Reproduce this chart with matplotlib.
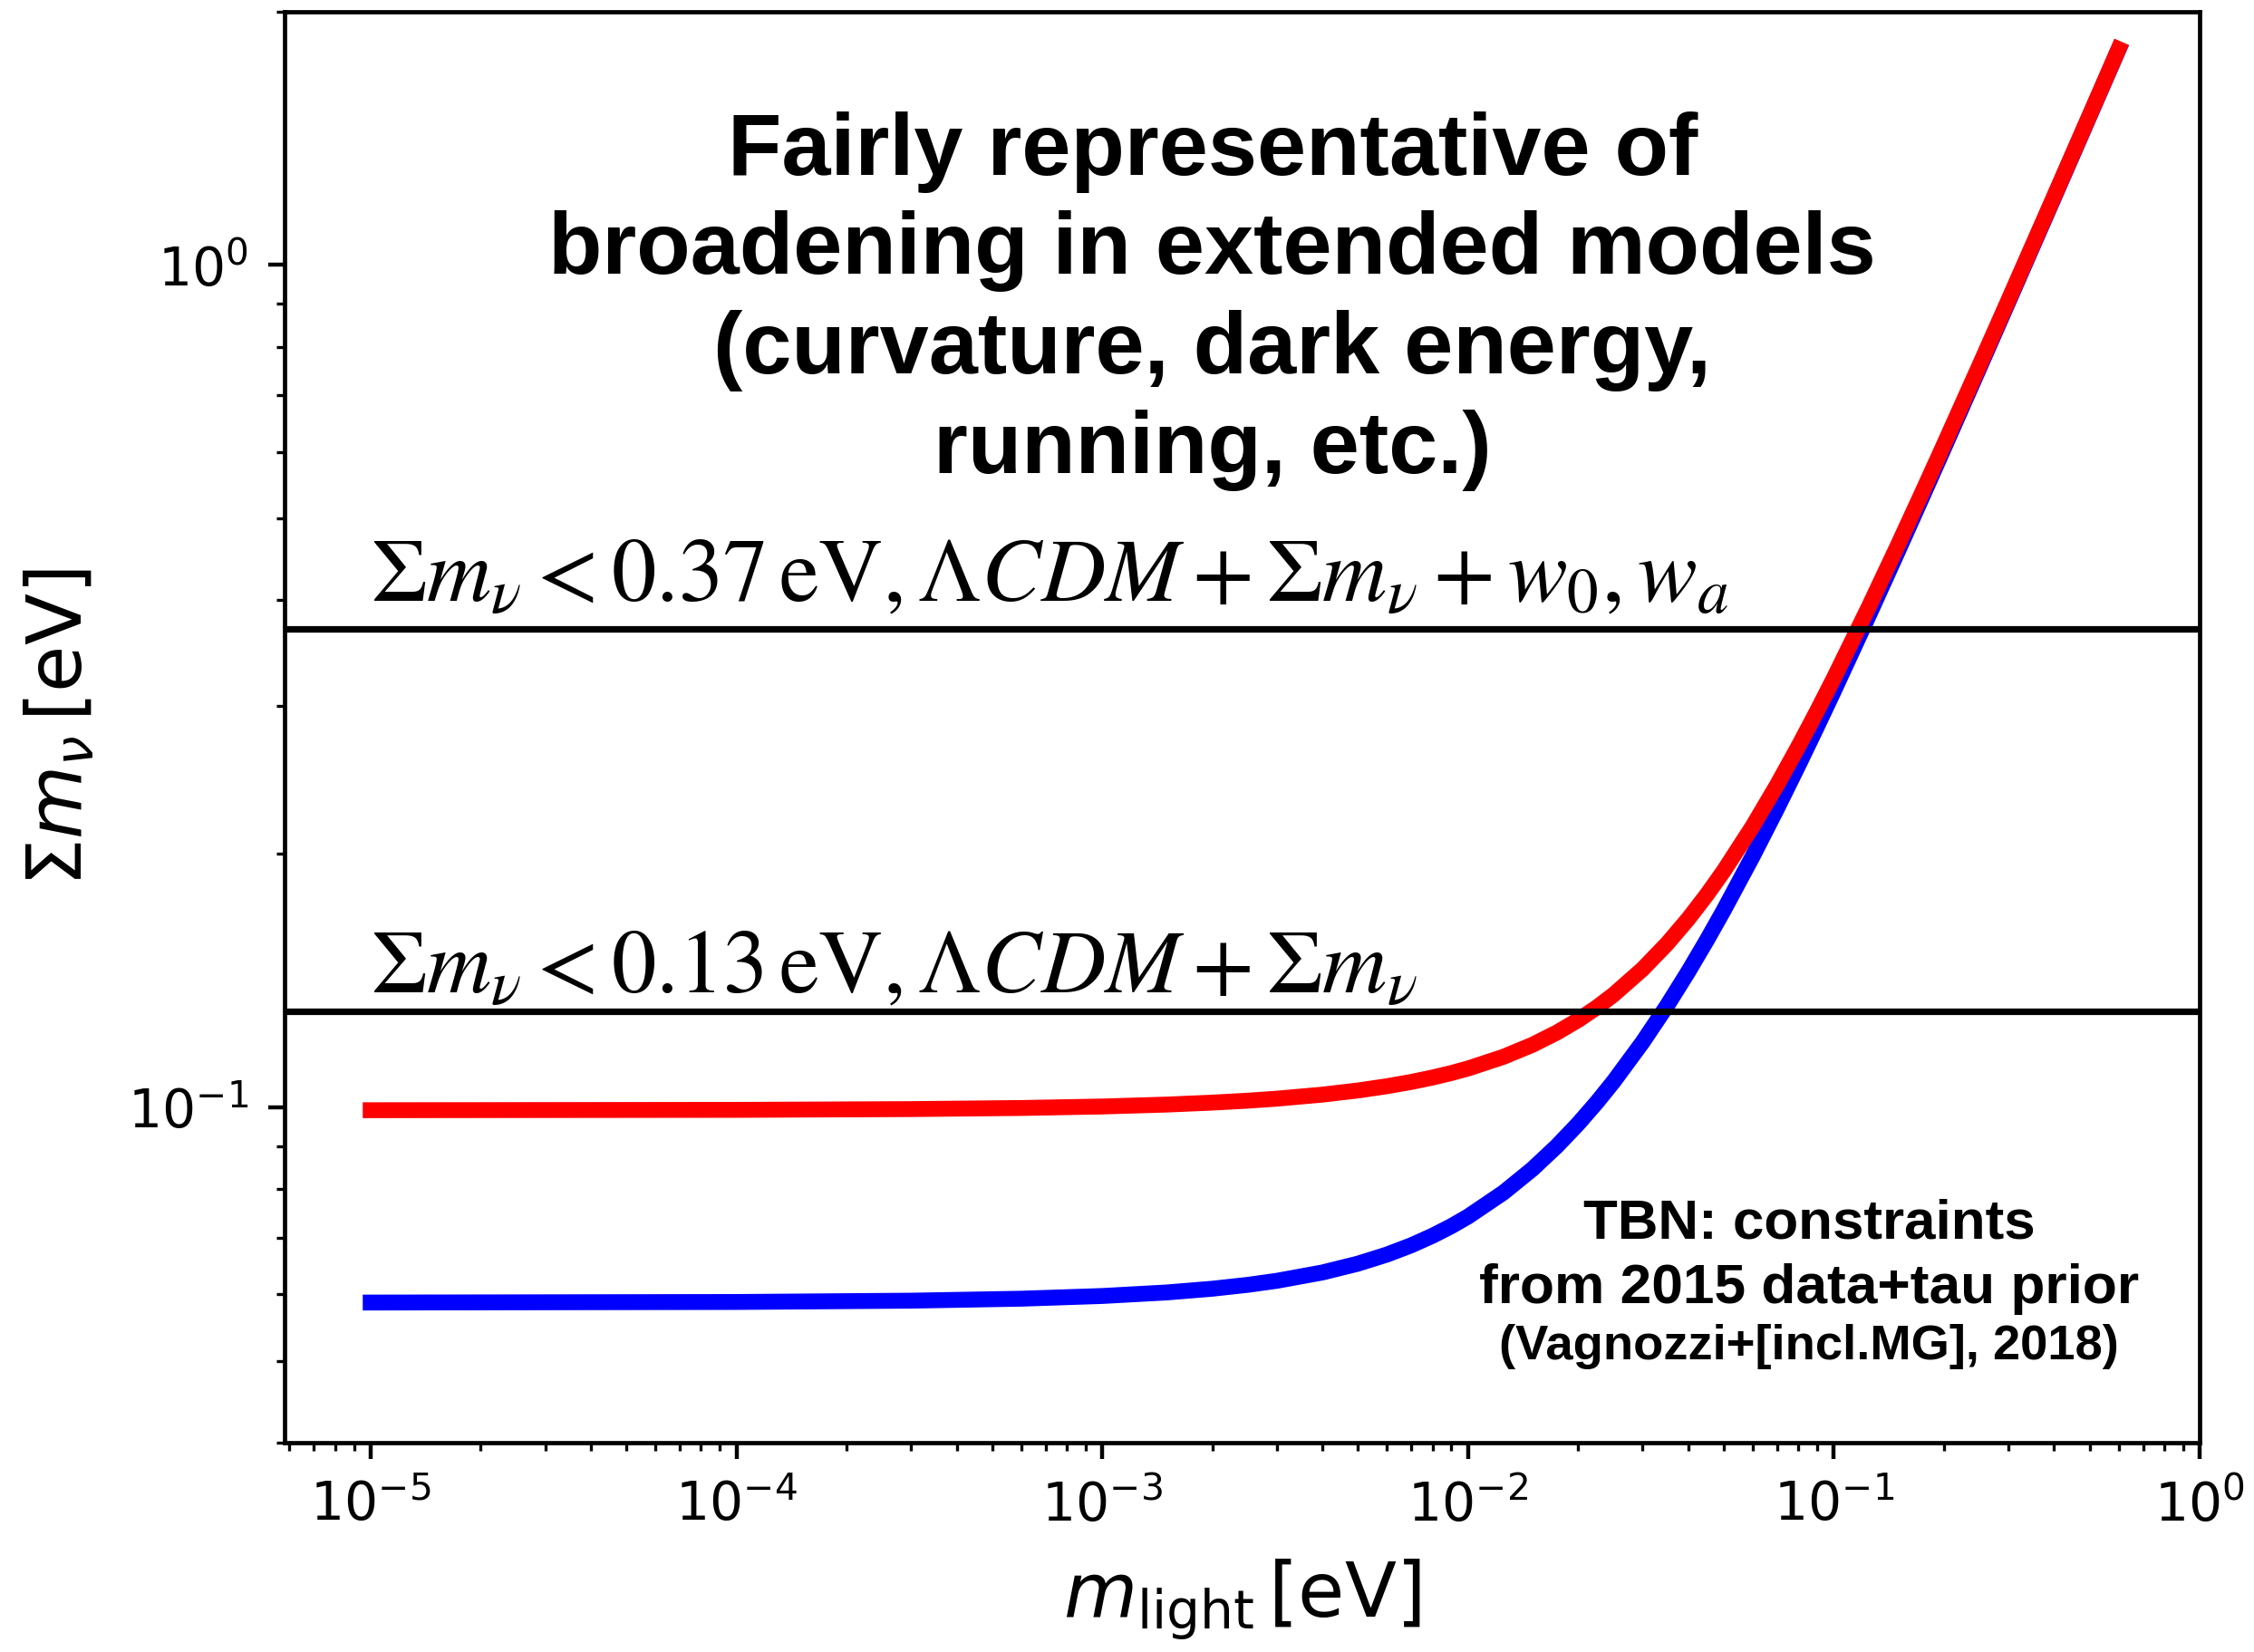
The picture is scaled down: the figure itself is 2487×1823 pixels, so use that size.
import matplotlib
matplotlib.use('Agg')
import matplotlib.pyplot as plt

# lightest neutrino mass [eV] and the summed mass for each ordering [eV]
m_light = [1e-5, 1e-4, 3e-4, 6e-4, 1e-3, 1.5e-3, 2e-3, 2.5e-3, 3e-3, 4e-3,
           5e-3, 6e-3, 7e-3, 8e-3, 9e-3, 0.01, 0.0125, 0.015, 0.0175, 0.02,
           0.0225, 0.025, 0.03, 0.035, 0.04, 0.045, 0.05, 0.06, 0.07, 0.08,
           0.09, 0.1, 0.125, 0.15, 0.175, 0.2, 0.25, 0.3, 0.4, 0.5, 0.6]
sum_normal = [0.05867, 0.05876, 0.05897, 0.05929, 0.05973, 0.06031, 0.06093,
              0.06158, 0.06226, 0.06370, 0.06525, 0.06689, 0.06862, 0.07043,
              0.07229, 0.07422, 0.07925, 0.08452, 0.09000, 0.09565, 0.10144,
              0.10736, 0.11954, 0.13209, 0.14496, 0.15809, 0.17146, 0.19872,
              0.22656, 0.25481, 0.28337, 0.31218, 0.38493, 0.45836, 0.53222,
              0.60634, 0.75510, 0.90426, 1.20321, 1.50257, 1.80214]
sum_inverted = [0.09925, 0.09934, 0.09955, 0.09985, 0.10026, 0.10079, 0.10133,
                0.10187, 0.10243, 0.10357, 0.10475, 0.10597, 0.10723, 0.10853,
                0.10986, 0.11124, 0.11485, 0.11868, 0.12274, 0.12700, 0.13147,
                0.13613, 0.14597, 0.15645, 0.16747, 0.17898, 0.19089, 0.21572,
                0.24161, 0.26828, 0.29555, 0.32327, 0.39398, 0.46599, 0.53880,
                0.61213, 0.75976, 0.90815, 1.20613, 1.50491, 1.80410]

# upper bounds on the summed mass
bound_lcdm = 0.13
bound_w0wa = 0.37

fig = plt.figure(figsize=(12.435, 9.115), dpi=200)
ax = fig.add_axes([0.1263, 0.1267, 0.8496, 0.8664])

ax.loglog(m_light, sum_normal, color='blue', lw=6.3)
ax.loglog(m_light, sum_inverted, color='red', lw=6.3)
ax.axhline(bound_w0wa, color='black', lw=2.6)
ax.axhline(bound_lcdm, color='black', lw=2.6)

ax.set_xlim(5.82e-6, 1)
ax.set_ylim(0.04, 2)

for s in ax.spines.values():
    s.set_linewidth(1.7)
ax.tick_params(which='major', length=6.5, width=1.6, labelsize=21, pad=8)
ax.tick_params(which='minor', length=3.3, width=1.2)

ax.set_xlabel(r'$m_{\rm light}\,$[eV]', fontsize=30, labelpad=10)
ax.set_ylabel(r'$\Sigma m_\nu\,$[eV]', fontsize=30, labelpad=12)

ax.text(1e-5, 0.40,
        r'$\Sigma m_\nu < 0.37\,{\rm eV}, \Lambda CDM + \Sigma m_\nu + w_0, w_a$',
        fontsize=35.5, math_fontfamily='stix', va='baseline', ha='left')
ax.text(1e-5, 0.137,
        r'$\Sigma m_\nu < 0.13\,{\rm eV}, \Lambda CDM + \Sigma m_\nu$',
        fontsize=35.5, math_fontfamily='stix', va='baseline', ha='left')

ax.text(2e-3, 0.906,
        'Fairly representative of\nbroadening in extended models\n'
        '(curvature, dark energy,\nrunning, etc.)',
        family='Liberation Sans', weight='bold', fontsize=35, linespacing=1.28,
        ha='center', va='center', multialignment='center')

ax.text(0.0857, 0.0699, 'TBN: constraints', family='Liberation Sans',
        weight='bold', fontsize=22.3, ha='center', va='baseline')
ax.text(0.0857, 0.0586, 'from 2015 data+tau prior', family='Liberation Sans',
        weight='bold', fontsize=22.4, ha='center', va='baseline')
ax.text(0.0857, 0.0503, '(Vagnozzi+[incl.MG], 2018)', family='Liberation Sans',
        weight='bold', fontsize=19.6, ha='center', va='baseline')

fig.savefig('out.png', dpi=200)
